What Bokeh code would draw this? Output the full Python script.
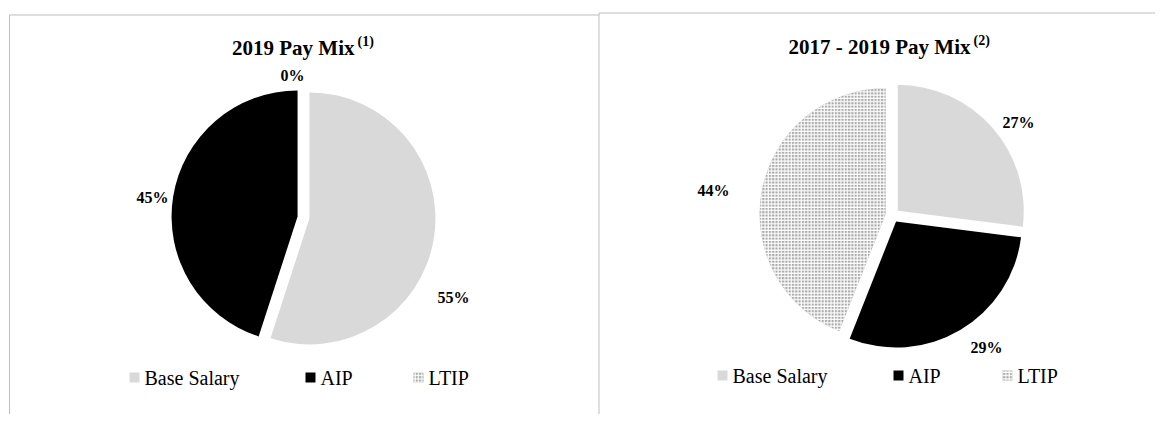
import math
from bokeh.plotting import figure
from bokeh.models import Range1d
from bokeh.core.properties import value
from bokeh.embed import file_html
from bokeh.resources import INLINE

# ---------------- data ----------------
components = ["Base Salary", "AIP", "LTIP"]
titles = ["2019 Pay Mix", "2017 - 2019 Pay Mix"]
notes = ["(1)", "(2)"]
pay_2019 = [55, 45, 0]
pay_2017_2019 = [27, 29, 44]

# ---------------- styles / layout ----------------
COLORS = ["#d9d9d9", "#000000", "#a9a9a9"]
HATCH = [None, None, "cross"]
SERIF = value("Liberation Serif")
W, H = 1155, 414
TOP = 430  # screen y -> data y conversion: y = TOP - y_screen

def sy(y):
    return TOP - y

def hatch_kw(j):
    if HATCH[j]:
        return dict(hatch_pattern=HATCH[j], hatch_color="white",
                    hatch_scale=3.3, hatch_weight=1.1)
    return {}

panels = [
    dict(values=pay_2019, center=(303, 217), radius=126, explode=6,
         title_end=354, title_y=47,
         labels=[(453, 297), (152, 197), (292, 75)],
         legend_x=[129, 305, 413], legend_y=377),
    dict(values=pay_2017_2019, center=(892, 215), radius=126, explode=7,
         title_end=970, title_y=46,
         labels=[(1018, 122), (986, 347), (713, 190)],
         legend_x=[717, 893, 1002], legend_y=375),
]

p = figure(width=W, height=H, x_range=Range1d(0, W), y_range=Range1d(TOP - H, TOP),
           output_backend="svg", toolbar_location=None,
           x_axis_location=None, y_axis_location=None, min_border=0)
p.outline_line_color = None
p.xgrid.visible = False
p.ygrid.visible = False
p.background_fill_color = "white"
p.border_fill_color = "white"

# panel borders
BORDER = "#bfbfbf"
p.segment(x0=[9, 9, 598.5, 598.5], y0=[sy(14.5), sy(14.5), sy(12.5), sy(12.5)],
          x1=[9, 598.5, 598.5, W], y1=[sy(430), sy(14.5), sy(430), sy(12.5)],
          line_color=BORDER, line_width=1)

for i, pn in enumerate(panels):
    vals = pn["values"]
    total = float(sum(vals))
    cx, cy = pn["center"][0], sy(pn["center"][1])
    cum = 0.0
    for j, v in enumerate(vals):
        c0 = cum / total
        cum += v
        c1 = cum / total
        if v > 0:
            mid = math.radians(90 - 360 * (c0 + c1) / 2)
            ox = cx + pn["explode"] * math.cos(mid)
            oy = cy + pn["explode"] * math.sin(mid)
            p.wedge(x=[ox], y=[oy], radius=pn["radius"],
                    start_angle=[math.radians(90 - 360 * c1)],
                    end_angle=[math.radians(90 - 360 * c0)],
                    direction="anticlock", fill_color=COLORS[j], line_color=None,
                    **hatch_kw(j))
        lx, ly = pn["labels"][j]
        p.text(x=[lx], y=[sy(ly)], text=[f"{v}%"], text_font=SERIF,
               text_font_style="bold", text_font_size="16px",
               text_align="center", text_baseline="middle", text_color="black")

    # title with superscript note
    p.text(x=[pn["title_end"]], y=[sy(pn["title_y"])], text=[titles[i]], text_font=SERIF,
           text_font_style="bold", text_font_size="21px", text_align="right",
           text_baseline="middle", text_color="black")
    p.text(x=[pn["title_end"] + 3], y=[sy(pn["title_y"] - 6)], text=[notes[i]], text_font=SERIF,
           text_font_style="bold", text_font_size="14px", text_align="left",
           text_baseline="middle", text_color="black")

    # legend
    for j, name in enumerate(components):
        x0 = pn["legend_x"][j]
        ly = sy(pn["legend_y"])
        p.rect(x=[x0 + 5], y=[ly], width=10, height=10, fill_color=COLORS[j],
               line_color=None, **hatch_kw(j))
        p.text(x=[x0 + 15], y=[ly], text=[name], text_font=SERIF,
               text_font_size="20px", text_align="left", text_baseline="middle",
               text_color="black")

open("out.html", "w").write(file_html(p, INLINE))
